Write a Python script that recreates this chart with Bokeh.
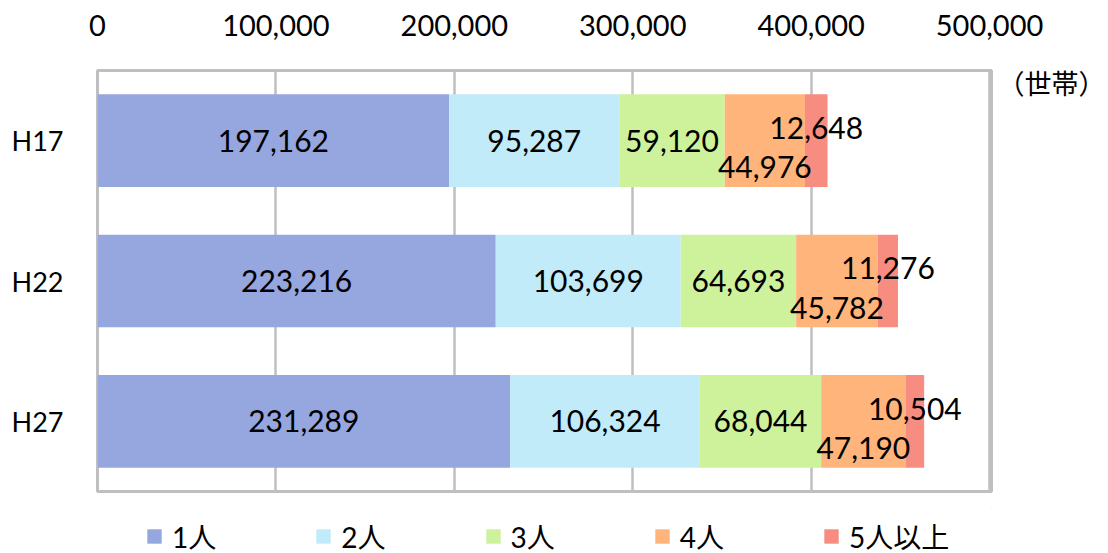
from bokeh.plotting import figure
from bokeh.layouts import column
from bokeh.models import (Range1d, FixedTicker, NumeralTickFormatter,
                          ColumnDataSource, Legend, LegendItem, LinearAxis)
from bokeh.core.properties import value
from bokeh.embed import file_html
from bokeh.resources import INLINE

years = ["H17", "H22", "H27"]
groups = ["1人", "2人", "3人", "4人", "5人以上"]
p1 = [197162, 223216, 231289]
p2 = [95287, 103699, 106324]
p3 = [59120, 64693, 68044]
p4 = [44976, 45782, 47190]
p5 = [12648, 11276, 10504]
ticks = [0, 100000, 200000, 300000, 400000, 500000]
colors = ["#96A6DE", "#C2EBF9", "#CDF29B", "#FFB47B", "#F78C80"]
unit_label = "（世帯）"

FONT = "Lato, 'Noto Sans CJK JP'"
W = 1108
H_MAIN = 508
H_LEG = 45

n = len(years)
ypos = [n - 0.5 - i for i in range(n)]   # H17 at top
series = [p1, p2, p3, p4, p5]
keys = ["s1", "s2", "s3", "s4", "s5"]
data = {"y": ypos}
for k, s in zip(keys, series):
    data[k] = s
src = ColumnDataSource(data)

p = figure(width=W, height=H_MAIN, output_backend="svg", toolbar_location=None,
           x_range=Range1d(0, 501100), y_range=Range1d(0, n),
           x_axis_location="above")
p.min_border_left = 97
p.min_border_right = 113
p.min_border_top = 70
p.min_border_bottom = H_MAIN - 491

renderers = p.hbar_stack(keys, y="y", height=0.66, color=colors, source=src,
                         line_color=None)

# grid & outline
p.xaxis.ticker = FixedTicker(ticks=ticks)
p.xgrid.ticker = FixedTicker(ticks=ticks)
p.xgrid.grid_line_color = "#BFBFBF"
p.xgrid.grid_line_width = 2.5
p.ygrid.grid_line_color = None
p.outline_line_color = "#BFBFBF"
p.outline_line_width = 3
p.outline_line_alpha = 1

p.xaxis.formatter = NumeralTickFormatter(format="0,0")
p.yaxis.ticker = FixedTicker(ticks=ypos)
p.yaxis.major_label_overrides = {y: t for y, t in zip(ypos, years)}
for ax in (p.xaxis[0], p.yaxis[0]):
    ax.axis_line_color = None
    ax.major_tick_line_color = None
    ax.minor_tick_line_color = None
    ax.major_label_text_font = FONT
    ax.major_label_text_color = "#000000"
p.xaxis.major_label_text_font_size = "29px"
p.yaxis.major_label_text_font_size = "27px"
p.xaxis.major_label_standoff = 29
p.yaxis.major_label_standoff = 28

# unit label on a right-hand axis, just below the top of the frame
unit_y = n - 0.089
uax = LinearAxis(ticker=FixedTicker(ticks=[unit_y]),
                 major_label_overrides={unit_y: unit_label},
                 axis_line_color=None, major_tick_line_color=None,
                 minor_tick_line_color=None, major_label_standoff=0,
                 major_label_text_font="'Noto Sans CJK JP'",
                 major_label_text_font_size="27px", major_label_text_color="#000000")
p.add_layout(uax, "right")

# data labels
cum = [0] * n
lx, ly, lt = [], [], []
offsets = [0, 0, 0, -0.19, 0.09]
for s, off in zip(series, offsets):
    for i, v in enumerate(s):
        lx.append(cum[i] + v / 2)
        ly.append(ypos[i] + off)
        lt.append(f"{v:,}")
        cum[i] += v
lsrc = ColumnDataSource(dict(x=lx, y=ly, t=lt))
p.text(x="x", y="y", text="t", source=lsrc,
       text_align="center", text_baseline="middle",
       text_font=value(FONT), text_font_size="30px", text_color="#000000")

# legend in its own strip below the chart
lf = figure(width=W, height=H_LEG, output_backend="svg", toolbar_location=None,
            x_range=Range1d(0, 1), y_range=Range1d(0, 1),
            x_axis_type=None, y_axis_type=None, min_border=0)
lf.outline_line_color = None
lf.xgrid.grid_line_color = None
lf.ygrid.grid_line_color = None
dummies = [lf.hbar(y=[50], left=[50], right=[60], height=1, color=c, line_color=None)
           for c in colors]
legend = Legend(items=[LegendItem(label=g, renderers=[r]) for g, r in zip(groups, dummies)],
                orientation="horizontal", location=(48, -3),
                glyph_width=18, glyph_height=18, label_standoff=9, spacing=98,
                padding=0, margin=0, border_line_color=None, background_fill_alpha=0,
                label_text_font=FONT, label_text_font_size="28px",
                label_text_color="#000000")
lf.add_layout(legend, "center")

layout = column(p, lf, spacing=0)
open("out.html", "w").write(file_html(layout, INLINE))
